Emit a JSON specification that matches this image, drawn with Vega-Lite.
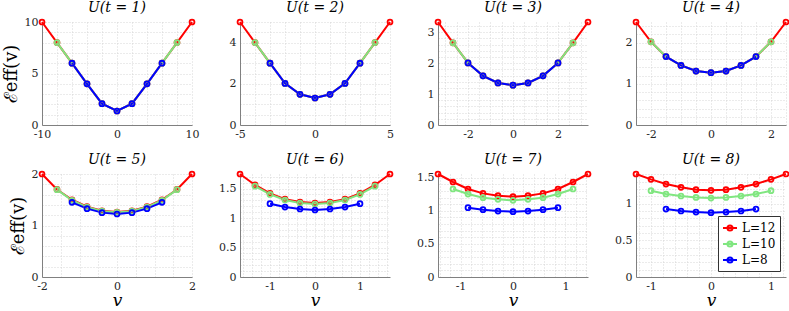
{
"$schema":"https://vega.github.io/schema/vega-lite/v6.json",
"background":"white",
"padding":{"left":2,"top":0,"right":3,"bottom":0},
"bounds":"flush",
"columns":4,
"spacing":{"row":49,"column":48},
"datasets":{"d":[
{"t":1,"L":"L=12","v":-10,"E":10},{"t":1,"L":"L=12","v":-8,"E":8},{"t":1,"L":"L=12","v":-6,"E":6},{"t":1,"L":"L=12","v":-4,"E":4},{"t":1,"L":"L=12","v":-2,"E":2.07},{"t":1,"L":"L=12","v":0,"E":1.36},{"t":1,"L":"L=12","v":2,"E":2.07},{"t":1,"L":"L=12","v":4,"E":4},{"t":1,"L":"L=12","v":6,"E":6},{"t":1,"L":"L=12","v":8,"E":8},{"t":1,"L":"L=12","v":10,"E":10},
{"t":1,"L":"L=10","v":-8,"E":8},{"t":1,"L":"L=10","v":-6,"E":6},{"t":1,"L":"L=10","v":-4,"E":4},{"t":1,"L":"L=10","v":-2,"E":2.07},{"t":1,"L":"L=10","v":0,"E":1.36},{"t":1,"L":"L=10","v":2,"E":2.07},{"t":1,"L":"L=10","v":4,"E":4},{"t":1,"L":"L=10","v":6,"E":6},{"t":1,"L":"L=10","v":8,"E":8},
{"t":1,"L":"L=8","v":-6,"E":6},{"t":1,"L":"L=8","v":-4,"E":4},{"t":1,"L":"L=8","v":-2,"E":2.07},{"t":1,"L":"L=8","v":0,"E":1.36},{"t":1,"L":"L=8","v":2,"E":2.07},{"t":1,"L":"L=8","v":4,"E":4},{"t":1,"L":"L=8","v":6,"E":6},
{"t":2,"L":"L=12","v":-5,"E":5},{"t":2,"L":"L=12","v":-4,"E":4},{"t":2,"L":"L=12","v":-3,"E":3},{"t":2,"L":"L=12","v":-2,"E":2.02},{"t":2,"L":"L=12","v":-1,"E":1.49},{"t":2,"L":"L=12","v":0,"E":1.31},{"t":2,"L":"L=12","v":1,"E":1.49},{"t":2,"L":"L=12","v":2,"E":2.02},{"t":2,"L":"L=12","v":3,"E":3},{"t":2,"L":"L=12","v":4,"E":4},{"t":2,"L":"L=12","v":5,"E":5},
{"t":2,"L":"L=10","v":-4,"E":4},{"t":2,"L":"L=10","v":-3,"E":3},{"t":2,"L":"L=10","v":-2,"E":2.02},{"t":2,"L":"L=10","v":-1,"E":1.49},{"t":2,"L":"L=10","v":0,"E":1.31},{"t":2,"L":"L=10","v":1,"E":1.49},{"t":2,"L":"L=10","v":2,"E":2.02},{"t":2,"L":"L=10","v":3,"E":3},{"t":2,"L":"L=10","v":4,"E":4},
{"t":2,"L":"L=8","v":-3,"E":3},{"t":2,"L":"L=8","v":-2,"E":2.02},{"t":2,"L":"L=8","v":-1,"E":1.49},{"t":2,"L":"L=8","v":0,"E":1.31},{"t":2,"L":"L=8","v":1,"E":1.49},{"t":2,"L":"L=8","v":2,"E":2.02},{"t":2,"L":"L=8","v":3,"E":3},
{"t":3,"L":"L=12","v":-3.333,"E":3.333},{"t":3,"L":"L=12","v":-2.667,"E":2.66},{"t":3,"L":"L=12","v":-2,"E":2.01},{"t":3,"L":"L=12","v":-1.333,"E":1.59},{"t":3,"L":"L=12","v":-0.667,"E":1.36},{"t":3,"L":"L=12","v":0,"E":1.29},{"t":3,"L":"L=12","v":0.667,"E":1.36},{"t":3,"L":"L=12","v":1.333,"E":1.59},{"t":3,"L":"L=12","v":2,"E":2.01},{"t":3,"L":"L=12","v":2.667,"E":2.66},{"t":3,"L":"L=12","v":3.333,"E":3.333},
{"t":3,"L":"L=10","v":-2.667,"E":2.66},{"t":3,"L":"L=10","v":-2,"E":2.01},{"t":3,"L":"L=10","v":-1.333,"E":1.59},{"t":3,"L":"L=10","v":-0.667,"E":1.36},{"t":3,"L":"L=10","v":0,"E":1.29},{"t":3,"L":"L=10","v":0.667,"E":1.36},{"t":3,"L":"L=10","v":1.333,"E":1.59},{"t":3,"L":"L=10","v":2,"E":2.01},{"t":3,"L":"L=10","v":2.667,"E":2.66},
{"t":3,"L":"L=8","v":-2,"E":2.01},{"t":3,"L":"L=8","v":-1.333,"E":1.59},{"t":3,"L":"L=8","v":-0.667,"E":1.36},{"t":3,"L":"L=8","v":0,"E":1.29},{"t":3,"L":"L=8","v":0.667,"E":1.36},{"t":3,"L":"L=8","v":1.333,"E":1.59},{"t":3,"L":"L=8","v":2,"E":2.01},
{"t":4,"L":"L=12","v":-2.5,"E":2.5},{"t":4,"L":"L=12","v":-2,"E":2.02},{"t":4,"L":"L=12","v":-1.5,"E":1.66},{"t":4,"L":"L=12","v":-1,"E":1.445},{"t":4,"L":"L=12","v":-0.5,"E":1.31},{"t":4,"L":"L=12","v":0,"E":1.27},{"t":4,"L":"L=12","v":0.5,"E":1.31},{"t":4,"L":"L=12","v":1,"E":1.445},{"t":4,"L":"L=12","v":1.5,"E":1.66},{"t":4,"L":"L=12","v":2,"E":2.02},{"t":4,"L":"L=12","v":2.5,"E":2.5},
{"t":4,"L":"L=10","v":-2,"E":2.02},{"t":4,"L":"L=10","v":-1.5,"E":1.66},{"t":4,"L":"L=10","v":-1,"E":1.445},{"t":4,"L":"L=10","v":-0.5,"E":1.31},{"t":4,"L":"L=10","v":0,"E":1.27},{"t":4,"L":"L=10","v":0.5,"E":1.31},{"t":4,"L":"L=10","v":1,"E":1.445},{"t":4,"L":"L=10","v":1.5,"E":1.66},{"t":4,"L":"L=10","v":2,"E":2.02},
{"t":4,"L":"L=8","v":-1.5,"E":1.66},{"t":4,"L":"L=8","v":-1,"E":1.445},{"t":4,"L":"L=8","v":-0.5,"E":1.31},{"t":4,"L":"L=8","v":0,"E":1.27},{"t":4,"L":"L=8","v":0.5,"E":1.31},{"t":4,"L":"L=8","v":1,"E":1.445},{"t":4,"L":"L=8","v":1.5,"E":1.66},
{"t":5,"L":"L=12","v":-2,"E":2},{"t":5,"L":"L=12","v":-1.6,"E":1.7},{"t":5,"L":"L=12","v":-1.2,"E":1.5},{"t":5,"L":"L=12","v":-0.8,"E":1.365},{"t":5,"L":"L=12","v":-0.4,"E":1.285},{"t":5,"L":"L=12","v":0,"E":1.262},{"t":5,"L":"L=12","v":0.4,"E":1.285},{"t":5,"L":"L=12","v":0.8,"E":1.365},{"t":5,"L":"L=12","v":1.2,"E":1.5},{"t":5,"L":"L=12","v":1.6,"E":1.7},{"t":5,"L":"L=12","v":2,"E":2},
{"t":5,"L":"L=10","v":-1.6,"E":1.696},{"t":5,"L":"L=10","v":-1.2,"E":1.49},{"t":5,"L":"L=10","v":-0.8,"E":1.358},{"t":5,"L":"L=10","v":-0.4,"E":1.278},{"t":5,"L":"L=10","v":0,"E":1.256},{"t":5,"L":"L=10","v":0.4,"E":1.278},{"t":5,"L":"L=10","v":0.8,"E":1.358},{"t":5,"L":"L=10","v":1.2,"E":1.49},{"t":5,"L":"L=10","v":1.6,"E":1.696},
{"t":5,"L":"L=8","v":-1.2,"E":1.45},{"t":5,"L":"L=8","v":-0.8,"E":1.327},{"t":5,"L":"L=8","v":-0.4,"E":1.25},{"t":5,"L":"L=8","v":0,"E":1.223},{"t":5,"L":"L=8","v":0.4,"E":1.25},{"t":5,"L":"L=8","v":0.8,"E":1.327},{"t":5,"L":"L=8","v":1.2,"E":1.45},
{"t":6,"L":"L=12","v":-1.667,"E":1.746},{"t":6,"L":"L=12","v":-1.333,"E":1.56},{"t":6,"L":"L=12","v":-1,"E":1.418},{"t":6,"L":"L=12","v":-0.667,"E":1.32},{"t":6,"L":"L=12","v":-0.333,"E":1.27},{"t":6,"L":"L=12","v":0,"E":1.254},{"t":6,"L":"L=12","v":0.333,"E":1.27},{"t":6,"L":"L=12","v":0.667,"E":1.32},{"t":6,"L":"L=12","v":1,"E":1.418},{"t":6,"L":"L=12","v":1.333,"E":1.56},{"t":6,"L":"L=12","v":1.667,"E":1.746},
{"t":6,"L":"L=10","v":-1.333,"E":1.54},{"t":6,"L":"L=10","v":-1,"E":1.4},{"t":6,"L":"L=10","v":-0.667,"E":1.305},{"t":6,"L":"L=10","v":-0.333,"E":1.254},{"t":6,"L":"L=10","v":0,"E":1.237},{"t":6,"L":"L=10","v":0.333,"E":1.254},{"t":6,"L":"L=10","v":0.667,"E":1.305},{"t":6,"L":"L=10","v":1,"E":1.4},{"t":6,"L":"L=10","v":1.333,"E":1.54},
{"t":6,"L":"L=8","v":-1,"E":1.243},{"t":6,"L":"L=8","v":-0.667,"E":1.186},{"t":6,"L":"L=8","v":-0.333,"E":1.153},{"t":6,"L":"L=8","v":0,"E":1.136},{"t":6,"L":"L=8","v":0.333,"E":1.153},{"t":6,"L":"L=8","v":0.667,"E":1.186},{"t":6,"L":"L=8","v":1,"E":1.243},
{"t":7,"L":"L=12","v":-1.4286,"E":1.557},{"t":7,"L":"L=12","v":-1.1429,"E":1.436},{"t":7,"L":"L=12","v":-0.8571,"E":1.33},{"t":7,"L":"L=12","v":-0.5714,"E":1.264},{"t":7,"L":"L=12","v":-0.2857,"E":1.229},{"t":7,"L":"L=12","v":0,"E":1.214},{"t":7,"L":"L=12","v":0.2857,"E":1.229},{"t":7,"L":"L=12","v":0.5714,"E":1.264},{"t":7,"L":"L=12","v":0.8571,"E":1.33},{"t":7,"L":"L=12","v":1.1429,"E":1.436},{"t":7,"L":"L=12","v":1.4286,"E":1.557},
{"t":7,"L":"L=10","v":-1.1429,"E":1.33},{"t":7,"L":"L=10","v":-0.8571,"E":1.254},{"t":7,"L":"L=10","v":-0.5714,"E":1.199},{"t":7,"L":"L=10","v":-0.2857,"E":1.174},{"t":7,"L":"L=10","v":0,"E":1.159},{"t":7,"L":"L=10","v":0.2857,"E":1.174},{"t":7,"L":"L=10","v":0.5714,"E":1.199},{"t":7,"L":"L=10","v":0.8571,"E":1.254},{"t":7,"L":"L=10","v":1.1429,"E":1.33},
{"t":7,"L":"L=8","v":-0.8571,"E":1.048},{"t":7,"L":"L=8","v":-0.5714,"E":1.018},{"t":7,"L":"L=8","v":-0.2857,"E":0.997},{"t":7,"L":"L=8","v":0,"E":0.987},{"t":7,"L":"L=8","v":0.2857,"E":0.997},{"t":7,"L":"L=8","v":0.5714,"E":1.018},{"t":7,"L":"L=8","v":0.8571,"E":1.048},
{"t":8,"L":"L=12","v":-1.25,"E":1.405},{"t":8,"L":"L=12","v":-1,"E":1.332},{"t":8,"L":"L=12","v":-0.75,"E":1.268},{"t":8,"L":"L=12","v":-0.5,"E":1.223},{"t":8,"L":"L=12","v":-0.25,"E":1.191},{"t":8,"L":"L=12","v":0,"E":1.182},{"t":8,"L":"L=12","v":0.25,"E":1.191},{"t":8,"L":"L=12","v":0.5,"E":1.223},{"t":8,"L":"L=12","v":0.75,"E":1.268},{"t":8,"L":"L=12","v":1,"E":1.332},{"t":8,"L":"L=12","v":1.25,"E":1.405},
{"t":8,"L":"L=10","v":-1,"E":1.177},{"t":8,"L":"L=10","v":-0.75,"E":1.132},{"t":8,"L":"L=10","v":-0.5,"E":1.105},{"t":8,"L":"L=10","v":-0.25,"E":1.086},{"t":8,"L":"L=10","v":0,"E":1.077},{"t":8,"L":"L=10","v":0.25,"E":1.086},{"t":8,"L":"L=10","v":0.5,"E":1.105},{"t":8,"L":"L=10","v":0.75,"E":1.132},{"t":8,"L":"L=10","v":1,"E":1.177},
{"t":8,"L":"L=8","v":-0.75,"E":0.927},{"t":8,"L":"L=8","v":-0.5,"E":0.9},{"t":8,"L":"L=8","v":-0.25,"E":0.886},{"t":8,"L":"L=8","v":0,"E":0.877},{"t":8,"L":"L=8","v":0.25,"E":0.886},{"t":8,"L":"L=8","v":0.5,"E":0.9},{"t":8,"L":"L=8","v":0.75,"E":0.927}
]},
"concat":[
{"width":150,"height":103,"title":"U(t = 1)","data":{"name":"d"},"transform":[{"filter":"datum.t==1"}],
 "mark":{"type":"line","strokeWidth":2,"point":{"filled":false,"size":24,"strokeWidth":1.8}},
 "encoding":{
  "x":{"field":"v","type":"quantitative","scale":{"domain":[-10,10],"nice":false,"zero":false},"axis":{"title":null,"values":[-10,-8,-6,-4,-2,0,2,4,6,8,10],"labelExpr":"indexof([-10,0,10], datum.value) >= 0 ? (datum.value < 0 ? '-' + abs(datum.value) : '' + datum.value) : ''"}},
  "y":{"field":"E","type":"quantitative","scale":{"domain":[0,10],"nice":false},"axis":{"title":"ℰeff(v)","values":[0,1,2,3,4,5,6,7,8,9,10],"labelExpr":"indexof([0,5,10], datum.value) >= 0 ? '' + datum.value : ''"}},
  "color":{"field":"L","type":"nominal","sort":null,"scale":{"domain":["L=12","L=10","L=8"],"range":["#ff0000","#80e680","#0000ff"]},"legend":null}}},
{"width":150,"height":103,"title":"U(t = 2)","data":{"name":"d"},"transform":[{"filter":"datum.t==2"}],
 "mark":{"type":"line","strokeWidth":2,"point":{"filled":false,"size":24,"strokeWidth":1.8}},
 "encoding":{
  "x":{"field":"v","type":"quantitative","scale":{"domain":[-5,5],"nice":false,"zero":false},"axis":{"title":null,"values":[-5,-4,-3,-2,-1,0,1,2,3,4,5],"labelExpr":"indexof([-5,0,5], datum.value) >= 0 ? (datum.value < 0 ? '-' + abs(datum.value) : '' + datum.value) : ''"}},
  "y":{"field":"E","type":"quantitative","scale":{"domain":[0,5],"nice":false},"axis":{"title":null,"values":[0,0.5,1,1.5,2,2.5,3,3.5,4,4.5,5],"labelExpr":"indexof([0,2,4], datum.value) >= 0 ? '' + datum.value : ''"}},
  "color":{"field":"L","type":"nominal","sort":null,"scale":{"domain":["L=12","L=10","L=8"],"range":["#ff0000","#80e680","#0000ff"]},"legend":null}}},
{"width":150,"height":103,"title":"U(t = 3)","data":{"name":"d"},"transform":[{"filter":"datum.t==3"}],
 "mark":{"type":"line","strokeWidth":2,"point":{"filled":false,"size":24,"strokeWidth":1.8}},
 "encoding":{
  "x":{"field":"v","type":"quantitative","scale":{"domain":[-3.333,3.333],"nice":false,"zero":false},"axis":{"title":null,"values":[-3,-2.5,-2,-1.5,-1,-0.5,0,0.5,1,1.5,2,2.5,3],"labelExpr":"indexof([-2,0,2], datum.value) >= 0 ? (datum.value < 0 ? '-' + abs(datum.value) : '' + datum.value) : ''"}},
  "y":{"field":"E","type":"quantitative","scale":{"domain":[0,3.333],"nice":false},"axis":{"title":null,"values":[0,0.2,0.4,0.6,0.8,1,1.2,1.4,1.6,1.8,2,2.2,2.4,2.6,2.8,3,3.2],"labelExpr":"indexof([0,1,2,3], datum.value) >= 0 ? '' + datum.value : ''"}},
  "color":{"field":"L","type":"nominal","sort":null,"scale":{"domain":["L=12","L=10","L=8"],"range":["#ff0000","#80e680","#0000ff"]},"legend":null}}},
{"width":150,"height":103,"title":"U(t = 4)","data":{"name":"d"},"transform":[{"filter":"datum.t==4"}],
 "mark":{"type":"line","strokeWidth":2,"point":{"filled":false,"size":24,"strokeWidth":1.8}},
 "encoding":{
  "x":{"field":"v","type":"quantitative","scale":{"domain":[-2.5,2.5],"nice":false,"zero":false},"axis":{"title":null,"values":[-2.5,-2,-1.5,-1,-0.5,0,0.5,1,1.5,2,2.5],"labelExpr":"indexof([-2,0,2], datum.value) >= 0 ? (datum.value < 0 ? '-' + abs(datum.value) : '' + datum.value) : ''"}},
  "y":{"field":"E","type":"quantitative","scale":{"domain":[0,2.5],"nice":false},"axis":{"title":null,"values":[0,0.2,0.4,0.6,0.8,1,1.2,1.4,1.6,1.8,2,2.2,2.4],"labelExpr":"indexof([0,1,2], datum.value) >= 0 ? '' + datum.value : ''"}},
  "color":{"field":"L","type":"nominal","sort":null,"scale":{"domain":["L=12","L=10","L=8"],"range":["#ff0000","#80e680","#0000ff"]},"legend":null}}},
{"width":150,"height":103,"title":"U(t = 5)","data":{"name":"d"},"transform":[{"filter":"datum.t==5"}],
 "mark":{"type":"line","strokeWidth":2,"point":{"filled":false,"size":24,"strokeWidth":1.8}},
 "encoding":{
  "x":{"field":"v","type":"quantitative","scale":{"domain":[-2,2],"nice":false,"zero":false},"axis":{"title":"v","values":[-2,-1.5,-1,-0.5,0,0.5,1,1.5,2],"labelExpr":"indexof([-2,0,2], datum.value) >= 0 ? (datum.value < 0 ? '-' + abs(datum.value) : '' + datum.value) : ''"}},
  "y":{"field":"E","type":"quantitative","scale":{"domain":[0,2],"nice":false},"axis":{"title":"ℰeff(v)","values":[0,0.2,0.4,0.6,0.8,1,1.2,1.4,1.6,1.8,2],"labelExpr":"indexof([0,1,2], datum.value) >= 0 ? '' + datum.value : ''"}},
  "color":{"field":"L","type":"nominal","sort":null,"scale":{"domain":["L=12","L=10","L=8"],"range":["#ff0000","#80e680","#0000ff"]},"legend":null}}},
{"width":150,"height":103,"title":"U(t = 6)","data":{"name":"d"},"transform":[{"filter":"datum.t==6"}],
 "mark":{"type":"line","strokeWidth":2,"point":{"filled":false,"size":24,"strokeWidth":1.8}},
 "encoding":{
  "x":{"field":"v","type":"quantitative","scale":{"domain":[-1.667,1.667],"nice":false,"zero":false},"axis":{"title":"v","values":[-1.6,-1.4,-1.2,-1,-0.8,-0.6,-0.4,-0.2,0,0.2,0.4,0.6,0.8,1,1.2,1.4,1.6],"labelExpr":"indexof([-1,0,1], datum.value) >= 0 ? (datum.value < 0 ? '-' + abs(datum.value) : '' + datum.value) : ''"}},
  "y":{"field":"E","type":"quantitative","scale":{"domain":[0,1.746],"nice":false},"axis":{"title":null,"values":[0,0.1,0.2,0.3,0.4,0.5,0.6,0.7,0.8,0.9,1,1.1,1.2,1.3,1.4,1.5,1.6,1.7],"labelExpr":"indexof([0,0.5,1,1.5], datum.value) >= 0 ? '' + datum.value : ''"}},
  "color":{"field":"L","type":"nominal","sort":null,"scale":{"domain":["L=12","L=10","L=8"],"range":["#ff0000","#80e680","#0000ff"]},"legend":null}}},
{"width":150,"height":103,"title":"U(t = 7)","data":{"name":"d"},"transform":[{"filter":"datum.t==7"}],
 "mark":{"type":"line","strokeWidth":2,"point":{"filled":false,"size":24,"strokeWidth":1.8}},
 "encoding":{
  "x":{"field":"v","type":"quantitative","scale":{"domain":[-1.4286,1.4286],"nice":false,"zero":false},"axis":{"title":"v","values":[-1.4,-1.2,-1,-0.8,-0.6,-0.4,-0.2,0,0.2,0.4,0.6,0.8,1,1.2,1.4],"labelExpr":"indexof([-1,0,1], datum.value) >= 0 ? (datum.value < 0 ? '-' + abs(datum.value) : '' + datum.value) : ''"}},
  "y":{"field":"E","type":"quantitative","scale":{"domain":[0,1.557],"nice":false},"axis":{"title":null,"values":[0,0.1,0.2,0.3,0.4,0.5,0.6,0.7,0.8,0.9,1,1.1,1.2,1.3,1.4,1.5],"labelExpr":"indexof([0,0.5,1,1.5], datum.value) >= 0 ? '' + datum.value : ''"}},
  "color":{"field":"L","type":"nominal","sort":null,"scale":{"domain":["L=12","L=10","L=8"],"range":["#ff0000","#80e680","#0000ff"]},"legend":null}}},
{"width":150,"height":103,"title":"U(t = 8)","data":{"name":"d"},"transform":[{"filter":"datum.t==8"}],
 "mark":{"type":"line","strokeWidth":2,"point":{"filled":false,"size":24,"strokeWidth":1.8}},
 "encoding":{
  "x":{"field":"v","type":"quantitative","scale":{"domain":[-1.25,1.25],"nice":false,"zero":false},"axis":{"title":"v","values":[-1.2,-1,-0.8,-0.6,-0.4,-0.2,0,0.2,0.4,0.6,0.8,1,1.2],"labelExpr":"indexof([-1,0,1], datum.value) >= 0 ? (datum.value < 0 ? '-' + abs(datum.value) : '' + datum.value) : ''"}},
  "y":{"field":"E","type":"quantitative","scale":{"domain":[0,1.405],"nice":false},"axis":{"title":null,"values":[0,0.1,0.2,0.3,0.4,0.5,0.6,0.7,0.8,0.9,1,1.1,1.2,1.3,1.4],"labelExpr":"indexof([0,0.5,1], datum.value) >= 0 ? '' + datum.value : ''"}},
  "color":{"field":"L","type":"nominal","sort":null,"scale":{"domain":["L=12","L=10","L=8"],"range":["#ff0000","#80e680","#0000ff"]},
   "legend":{"title":null,"orient":"bottom-right","offset":6,"symbolType":"M-1,0L1,0M0.36,0A0.36,0.36,0,1,1,-0.36,0A0.36,0.36,0,1,1,0.36,0","symbolSize":196,"symbolStrokeWidth":2,"symbolFillColor":"transparent","labelFont":"DejaVu Serif","labelFontSize":12,"labelColor":"#000","strokeColor":"#333","fillColor":"white","padding":4,"rowPadding":1,"cornerRadius":0}}}}
],
"resolve":{"scale":{"color":"independent"},"legend":{"color":"independent"}},
"config":{
 "view":{"stroke":null},
 "font":"DejaVu Serif",
 "title":{"font":"DejaVu Serif","fontStyle":"italic","fontWeight":"normal","fontSize":14,"color":"#000","offset":1},
 "axis":{"grid":true,"gridColor":"#cccccc","gridDash":[1,2],"gridWidth":0.8,"domainColor":"#808080","domainWidth":1,"ticks":false,"labelFont":"DejaVu Serif","labelFontSize":11,"labelColor":"#262626","labelFlush":false,"labelOverlap":false,"titleFont":"DejaVu Serif","titleFontWeight":"normal","titleColor":"#000"},
 "axisX":{"titleFontSize":17,"titleFontStyle":"italic","titlePadding":1,"labelPadding":3},
 "axisY":{"titleFontSize":18,"titlePadding":4,"labelPadding":4}
}
}
